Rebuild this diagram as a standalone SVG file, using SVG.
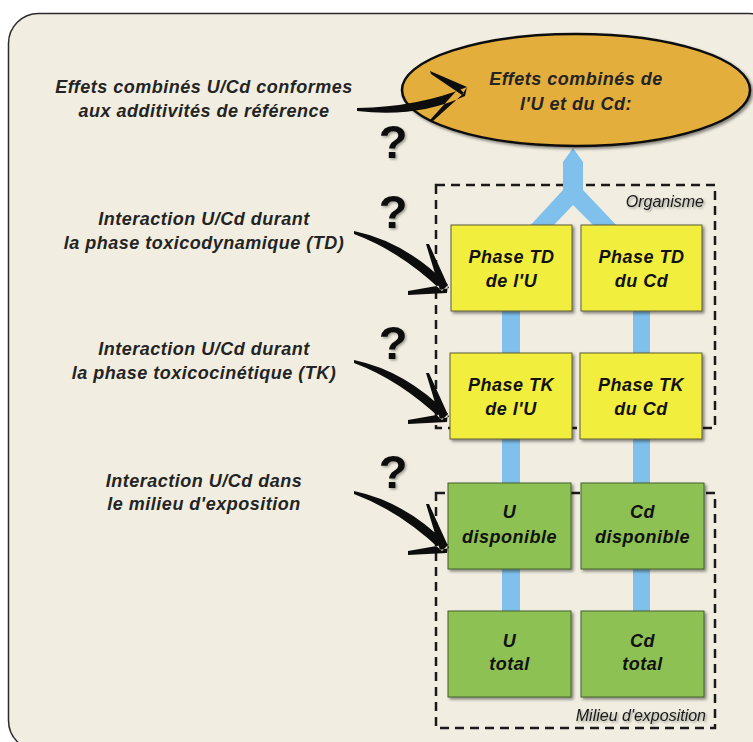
<svg xmlns="http://www.w3.org/2000/svg" width="753" height="742" viewBox="0 0 753 742">
  <defs>
    <filter id="shadow" x="-10%" y="-10%" width="130%" height="130%">
      <feDropShadow dx="2" dy="2" stdDeviation="1.5" flood-color="#000" flood-opacity="0.45"/>
    </filter>
    <filter id="tshadow" x="-10%" y="-20%" width="130%" height="150%">
      <feDropShadow dx="1.5" dy="1.5" stdDeviation="1.2" flood-color="#000" flood-opacity="0.35"/>
    </filter>
    <path id="arrowL" d="M -92,-57 Q -40,-46 2,-3 L -4,3 Q -46,-37 -92,-54 Z M -20,-44 L -17,-44 L 3,0 L -6,2 Z M -38,3 L -38,7 L 1,5 L 2,-4 Z"/>
  </defs>
  <style>
    .lbl { font-family: "Liberation Sans", Arial, sans-serif; font-weight: bold; font-style: italic; font-size: 18px; letter-spacing: 0.5px; fill: #242424; text-anchor: middle; }
    .box text { font-family: "Liberation Sans", Arial, sans-serif; font-weight: bold; font-style: italic; font-size: 18px; letter-spacing: 0.5px; fill: #111; text-anchor: middle; }
    .yel { fill: #f2ee3c; stroke: #5a5a3a; stroke-width: 1; filter: url(#shadow); }
    .grn { fill: #8ec153; stroke: #44602a; stroke-width: 1; filter: url(#shadow); }
    .dash { fill: none; stroke: #1a1a1a; stroke-width: 2.5; stroke-dasharray: 9 6; }
    .zone { font-family: "Liberation Sans", Arial, sans-serif; font-style: italic; font-size: 16px; fill: #1a1a1a; text-anchor: end; filter: url(#tshadow); }
    .q { font-family: "Liberation Sans", Arial, sans-serif; font-weight: bold; font-size: 47px; fill: #111; text-anchor: middle; filter: url(#tshadow); }
    .blue { fill: #7fc0ec; }
    .arr { fill: #0d0d0d; }
  </style>

  <rect x="0" y="0" width="753" height="742" fill="#ffffff"/>
  <rect id="panel" x="8.5" y="13.5" width="770" height="737" rx="30" ry="30" fill="#f1eee1" stroke="#2b2b2b" stroke-width="1.5"/>

  <!-- zones -->
  <g id="zone-organisme">
    <rect class="dash" x="436" y="185" width="279" height="243"/>
    <text class="zone" x="704" y="207">Organisme</text>
  </g>
  <g id="zone-milieu">
    <rect class="dash" x="436" y="493" width="279" height="235"/>
    <text class="zone" x="706" y="721" font-size="16.5">Milieu d'exposition</text>
  </g>

  <!-- blue links between nodes -->
  <g id="links">
    <polygon class="blue" points="573,148 583,162 583,190 620,229 597,229 573,205 550,229 527,229 563,190 563,162"/>
    <rect class="blue" x="502" y="300" width="18" height="320"/>
    <rect class="blue" x="633" y="300" width="17" height="320"/>
  </g>

  <!-- ellipse node -->
  <g id="effets">
    <ellipse cx="576" cy="90" rx="174" ry="56" fill="#e4ae3c" stroke="#111" stroke-width="2.5" filter="url(#shadow)"/>
    <text class="lbl" x="576" y="85" fill="#111">Effets combinés de</text>
    <text class="lbl" x="576" y="110" fill="#111">l'U et du Cd:</text>
  </g>

  <!-- boxes -->
  <g id="td-u" class="box">
    <rect class="yel" x="451" y="225" width="121" height="86"/>
    <text x="511.5" y="263">Phase TD</text>
    <text x="511.5" y="287">de l'U</text>
  </g>
  <g id="td-cd" class="box">
    <rect class="yel" x="581" y="225" width="121" height="86"/>
    <text x="641.5" y="263">Phase TD</text>
    <text x="641.5" y="287">du Cd</text>
  </g>
  <g id="tk-u" class="box">
    <rect class="yel" x="450" y="353" width="122" height="86"/>
    <text x="511" y="391">Phase TK</text>
    <text x="511" y="415">de l'U</text>
  </g>
  <g id="tk-cd" class="box">
    <rect class="yel" x="580" y="353" width="122" height="86"/>
    <text x="641" y="391">Phase TK</text>
    <text x="641" y="415">du Cd</text>
  </g>
  <g id="u-dispo" class="box">
    <rect class="grn" x="448" y="483" width="123" height="86"/>
    <text x="509.5" y="518">U</text>
    <text x="509.5" y="543">disponible</text>
  </g>
  <g id="cd-dispo" class="box">
    <rect class="grn" x="581" y="483" width="123" height="86"/>
    <text x="642.5" y="518">Cd</text>
    <text x="642.5" y="543">disponible</text>
  </g>
  <g id="u-total" class="box">
    <rect class="grn" x="448" y="611" width="123" height="86"/>
    <text x="509.5" y="647">U</text>
    <text x="509.5" y="670">total</text>
  </g>
  <g id="cd-total" class="box">
    <rect class="grn" x="581" y="611" width="123" height="86"/>
    <text x="642.5" y="647">Cd</text>
    <text x="642.5" y="670">total</text>
  </g>

  <!-- connectors: brush arrows -->
  <g id="connectors">
    <use href="#arrowL" class="arr" transform="translate(446,288)"/>
    <use href="#arrowL" class="arr" transform="translate(446,417)"/>
    <use href="#arrowL" class="arr" transform="translate(446,548)"/>
    <path class="arr" transform="translate(464,89)" d="M -107,19 Q -45,18 3,-2 L 1,7 Q -46,29 -107,22 Z M -34,-18 L -33,-15 L -2,6 L 3,-2 Z M -34,31 L -31,32 L 0,4 L -5,-1 Z"/>
  </g>

  <!-- left labels -->
  <g id="lbl-additivite">
    <text class="lbl" x="204" y="93">Effets combinés U/Cd conformes</text>
    <text class="lbl" x="204" y="117">aux additivités de référence</text>
  </g>
  <g id="lbl-td">
    <text class="lbl" x="204" y="225">Interaction U/Cd durant</text>
    <text class="lbl" x="204" y="249">la phase toxicodynamique (TD)</text>
  </g>
  <g id="lbl-tk">
    <text class="lbl" x="204" y="355">Interaction U/Cd durant</text>
    <text class="lbl" x="204" y="379">la phase toxicocinétique (TK)</text>
  </g>
  <g id="lbl-milieu">
    <text class="lbl" x="204" y="487">Interaction U/Cd dans</text>
    <text class="lbl" x="204" y="510">le milieu d'exposition</text>
  </g>

  <!-- question marks -->
  <g id="questions">
    <text class="q" x="393" y="158">?</text>
    <text class="q" x="393" y="228">?</text>
    <text class="q" x="393" y="359">?</text>
    <text class="q" x="393" y="488">?</text>
  </g>
</svg>
